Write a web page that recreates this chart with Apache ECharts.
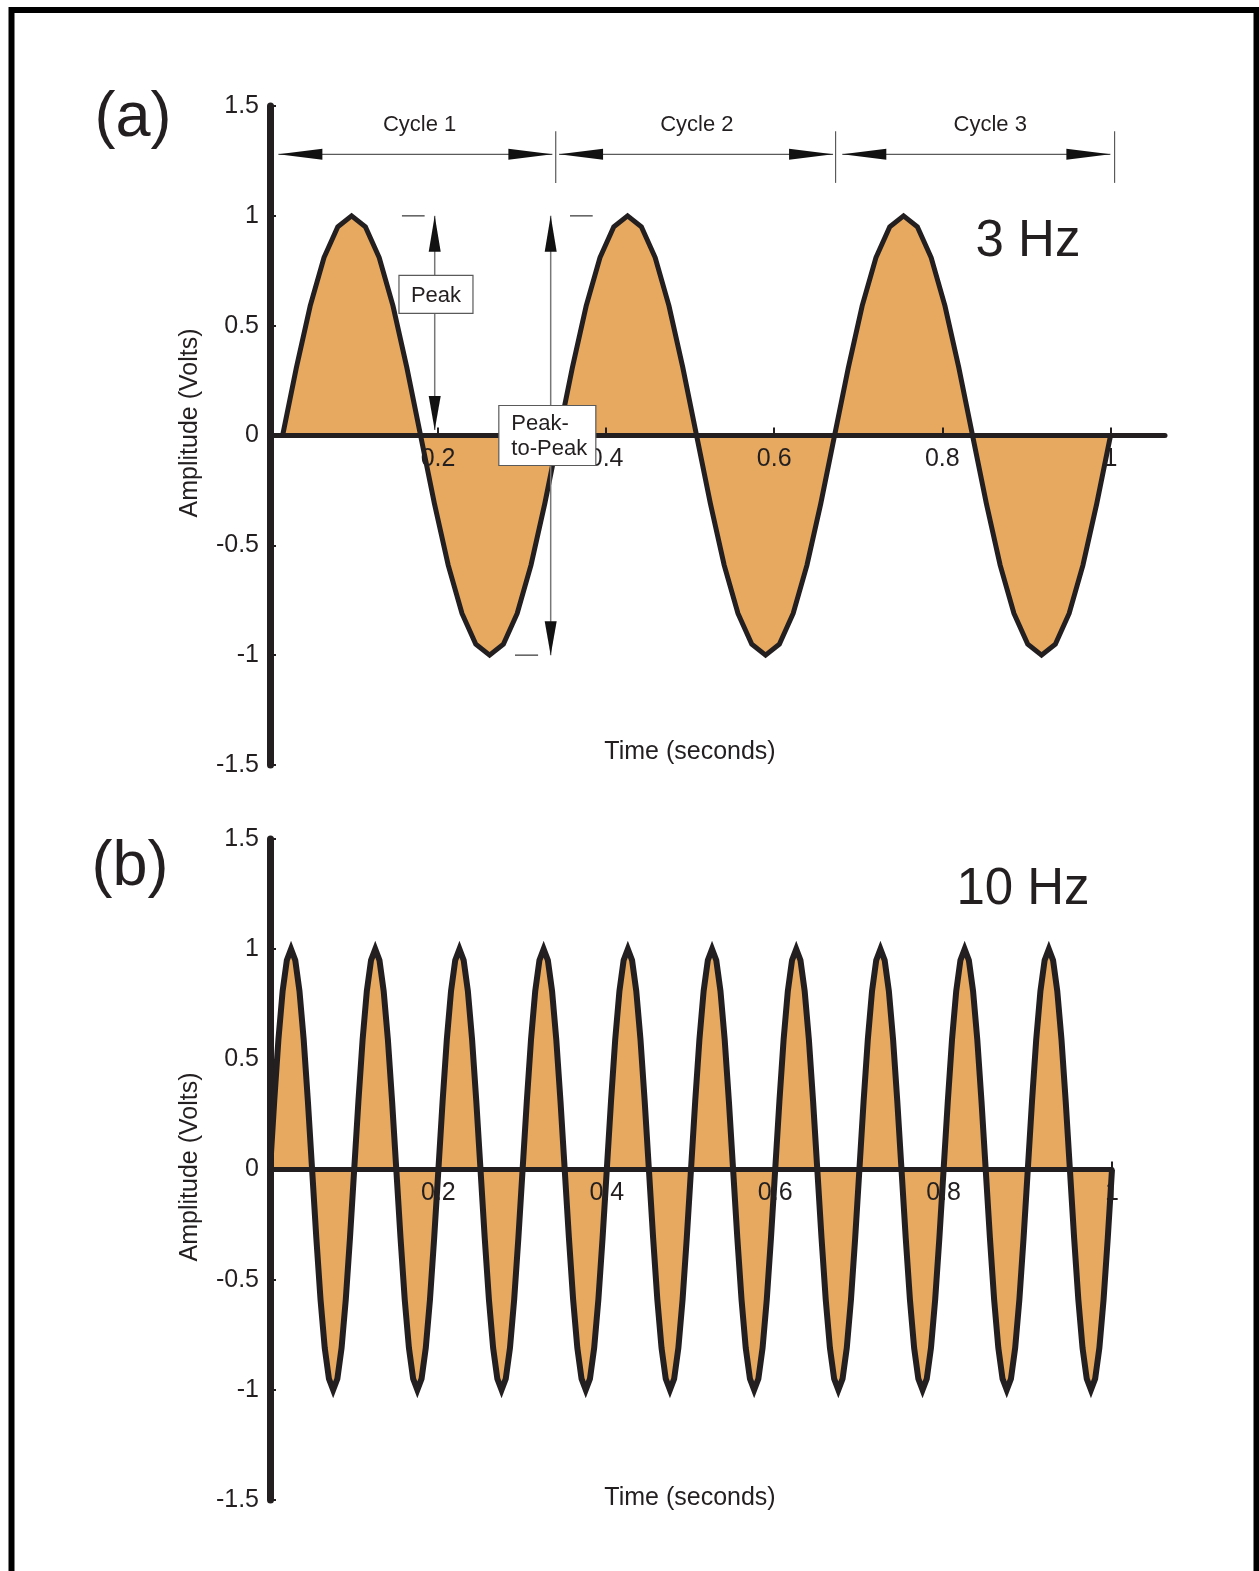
<!DOCTYPE html>
<html>
<head>
<meta charset="utf-8">
<script src="https://cdn.jsdelivr.net/npm/echarts@6/dist/echarts.min.js"></script>
<style>
  html, body { margin: 0; padding: 0; background: #fff; }
  #chart { width: 1259px; height: 1571px; }
</style>
</head>
<body>
<div id="chart"></div>
<script>
const FONT = '"Liberation Sans", Arial, Helvetica, sans-serif'
const INK = '#231f20'
const FILL = '#e6a95f'
const GUIDE = '#5a5a5a'

// panel (a): 3 Hz trace, 20 readings per cycle, first reading at 0.015 s
const startA = 0.015
const stepA = 0.01642
const voltsA = [
  0, 0.31, 0.59, 0.81, 0.95, 1, 0.95, 0.81, 0.59, 0.31, 0, -0.31, -0.59, -0.81, -0.95, -1, -0.95, -0.81, -0.59, -0.31,
  0, 0.31, 0.59, 0.81, 0.95, 1, 0.95, 0.81, 0.59, 0.31, 0, -0.31, -0.59, -0.81, -0.95, -1, -0.95, -0.81, -0.59, -0.31,
  0, 0.31, 0.59, 0.81, 0.95, 1, 0.95, 0.81, 0.59, 0.31, 0, -0.31, -0.59, -0.81, -0.95, -1, -0.95, -0.81, -0.59, -0.31,
  0
]

// panel (b): 10 Hz trace, 20 readings per cycle, starting at 0 s
const startB = 0
const stepB = 0.005
const voltsB = [
  0, 0.31, 0.59, 0.81, 0.95, 1, 0.95, 0.81, 0.59, 0.31, 0, -0.31, -0.59, -0.81, -0.95, -1, -0.95, -0.81, -0.59, -0.31,
  0, 0.31, 0.59, 0.81, 0.95, 1, 0.95, 0.81, 0.59, 0.31, 0, -0.31, -0.59, -0.81, -0.95, -1, -0.95, -0.81, -0.59, -0.31,
  0, 0.31, 0.59, 0.81, 0.95, 1, 0.95, 0.81, 0.59, 0.31, 0, -0.31, -0.59, -0.81, -0.95, -1, -0.95, -0.81, -0.59, -0.31,
  0, 0.31, 0.59, 0.81, 0.95, 1, 0.95, 0.81, 0.59, 0.31, 0, -0.31, -0.59, -0.81, -0.95, -1, -0.95, -0.81, -0.59, -0.31,
  0, 0.31, 0.59, 0.81, 0.95, 1, 0.95, 0.81, 0.59, 0.31, 0, -0.31, -0.59, -0.81, -0.95, -1, -0.95, -0.81, -0.59, -0.31,
  0, 0.31, 0.59, 0.81, 0.95, 1, 0.95, 0.81, 0.59, 0.31, 0, -0.31, -0.59, -0.81, -0.95, -1, -0.95, -0.81, -0.59, -0.31,
  0, 0.31, 0.59, 0.81, 0.95, 1, 0.95, 0.81, 0.59, 0.31, 0, -0.31, -0.59, -0.81, -0.95, -1, -0.95, -0.81, -0.59, -0.31,
  0, 0.31, 0.59, 0.81, 0.95, 1, 0.95, 0.81, 0.59, 0.31, 0, -0.31, -0.59, -0.81, -0.95, -1, -0.95, -0.81, -0.59, -0.31,
  0, 0.31, 0.59, 0.81, 0.95, 1, 0.95, 0.81, 0.59, 0.31, 0, -0.31, -0.59, -0.81, -0.95, -1, -0.95, -0.81, -0.59, -0.31,
  0, 0.31, 0.59, 0.81, 0.95, 1, 0.95, 0.81, 0.59, 0.31, 0, -0.31, -0.59, -0.81, -0.95, -1, -0.95, -0.81, -0.59, -0.31,
  0
]

const xTickValues = [0.2, 0.4, 0.6, 0.8, 1]
const xTickLabels = ['0.2', '0.4', '0.6', '0.8', '1']

// annotations of panel (a), in data units
const cycleNames = ['Cycle 1', 'Cycle 2', 'Cycle 3']
const cycleSpans = [[0.01, 0.336], [0.344, 0.67], [0.681, 1.0]]
const cycleLabelAt = [0.178, 0.508, 0.857]
const cycleMarks = [0.34, 0.673, 1.005]
const cycleArrowLevel = 1.28
const cycleLabelLevel = 1.415
const cycleMarkRange = [1.15, 1.385]

const peakArrow = { t: 0.196, from: 1.0, to: 0.025 }
const p2pArrow = { t: 0.334, from: 1.0, to: -1.0 }
const peakDashes = [
  { t0: 0.157, t1: 0.184, v: 1.0 },
  { t0: 0.357, t1: 0.384, v: 1.0 },
  { t0: 0.2915, t1: 0.319, v: -1.0 }
]

const toPoints = (volts, start, step) => volts.map((v, i) => [start + i * step, v])
const pointsA = toPoints(voltsA, startA, stepA)
const pointsB = toPoints(voltsB, startB, stepB)

const grids = [
  { left: 270, top: 106, width: 895, height: 659 },
  { left: 270, top: 839, width: 842, height: 661 }
]

// the time axis sits on the zero line, halfway up the symmetric volt range
function xAxisFor(gridIndex, max) {
  return {
    type: 'value',
    gridIndex,
    position: 'bottom',
    offset: -grids[gridIndex].height / 2,
    min: 0,
    max,
    interval: 0.2,
    z: 2,
    axisLine: { onZero: false, lineStyle: { color: INK, width: 5 } },
    axisTick: { inside: true, length: 8, customValues: xTickValues, lineStyle: { color: INK, width: 2 } },
    axisLabel: {
      margin: 11,
      color: INK,
      fontSize: 25,
      fontFamily: FONT,
      formatter: (v) => xTickLabels[xTickValues.findIndex((x) => Math.abs(x - v) < 1e-6)] || ''
    },
    splitLine: { show: false }
  }
}

function yAxisFor(gridIndex) {
  return {
    type: 'value',
    gridIndex,
    min: -1.5,
    max: 1.5,
    interval: 0.5,
    z: 2,
    axisLine: { show: true, onZero: false, lineStyle: { color: INK, width: 7 } },
    axisTick: { show: true, inside: true, length: 6, lineStyle: { color: INK, width: 2 } },
    axisLabel: { margin: 11, color: INK, fontSize: 25, fontFamily: FONT },
    splitLine: { show: false }
  }
}

function waveSeries(axisIndex, data, width) {
  return [
    {
      type: 'line',
      xAxisIndex: axisIndex,
      yAxisIndex: axisIndex,
      data,
      symbol: 'none',
      silent: true,
      z: 1,
      lineStyle: { opacity: 0 },
      areaStyle: { color: FILL, opacity: 1, origin: 0 }
    },
    {
      type: 'line',
      xAxisIndex: axisIndex,
      yAxisIndex: axisIndex,
      data,
      symbol: 'none',
      silent: true,
      z: 3,
      lineStyle: { color: INK, width, join: 'miter', miterLimit: 10 }
    }
  ]
}

const chart = echarts.init(document.getElementById('chart'))

chart.setOption({
  backgroundColor: '#fff',
  animation: false,
  grid: grids,
  xAxis: [xAxisFor(0, 1.065), xAxisFor(1, 1)],
  yAxis: [yAxisFor(0), yAxisFor(1)],
  series: [...waveSeries(0, pointsA, 5), ...waveSeries(1, pointsB, 6)]
})

// helpers for the drawn annotations
const px = (t, v) => chart.convertToPixel({ gridIndex: 0 }, [t, v])

function arrowHead(tip, dx, dy, len, half) {
  const bx = tip[0] - dx * len
  const by = tip[1] - dy * len
  return {
    type: 'polygon',
    z: 20,
    silent: true,
    shape: { points: [tip, [bx - dy * half, by + dx * half], [bx + dy * half, by - dx * half]] },
    style: { fill: '#111' }
  }
}

function seg(a, b, color, width) {
  return {
    type: 'line',
    z: 20,
    silent: true,
    shape: { x1: a[0], y1: a[1], x2: b[0], y2: b[1] },
    style: { stroke: color, lineWidth: width }
  }
}

function label(text, x, y, size, extra) {
  return {
    type: 'text',
    z: 20,
    silent: true,
    x,
    y,
    style: Object.assign({ text, font: `${size}px ${FONT}`, fill: INK, align: 'center', verticalAlign: 'middle' }, extra || {})
  }
}

const graphics = []

// outer frame
graphics.push({
  type: 'rect',
  z: 30,
  silent: true,
  shape: { x: 11.5, y: 10, width: 1245, height: 1620 },
  style: { fill: null, stroke: '#000', lineWidth: 6 }
})

// cycle arrows
cycleSpans.forEach((span, i) => {
  const a = px(span[0], cycleArrowLevel)
  const b = px(span[1], cycleArrowLevel)
  graphics.push(seg(a, b, GUIDE, 1.2))
  graphics.push(arrowHead(a, -1, 0, 44, 5.5))
  graphics.push(arrowHead(b, 1, 0, 44, 5.5))
  const c = px(cycleLabelAt[i], cycleLabelLevel)
  graphics.push(label(cycleNames[i], c[0], c[1], 22))
})
cycleMarks.forEach((t) => {
  graphics.push(seg(px(t, cycleMarkRange[0]), px(t, cycleMarkRange[1]), GUIDE, 1.2))
})

// peak and peak-to-peak arrows
;[peakArrow, p2pArrow].forEach((ar) => {
  const top = px(ar.t, ar.from)
  const bot = px(ar.t, ar.to)
  graphics.push(seg(top, bot, '#777', 1.5))
  graphics.push(arrowHead(top, 0, -1, 36, 6))
  graphics.push(arrowHead(bot, 0, 1, 34, 6))
})
peakDashes.forEach((d) => {
  graphics.push(seg(px(d.t0, d.v), px(d.t1, d.v), GUIDE, 1.5))
})

// boxes
const peakBox = px(0.1975, 0.642)
graphics.push({
  type: 'rect', z: 21, silent: true,
  shape: { x: peakBox[0] - 37, y: peakBox[1] - 19, width: 74, height: 38 },
  style: { fill: '#fff', stroke: GUIDE, lineWidth: 1.2 }
})
graphics.push(Object.assign(label('Peak', peakBox[0], peakBox[1] + 1, 22), { z: 22 }))

const p2pBox = px(0.330, 0)
graphics.push({
  type: 'rect', z: 21, silent: true,
  shape: { x: p2pBox[0] - 48.5, y: p2pBox[1] - 30, width: 97, height: 60 },
  style: { fill: '#fff', stroke: GUIDE, lineWidth: 1.2 }
})
graphics.push(Object.assign(label('Peak-\nto-Peak', p2pBox[0] - 36, p2pBox[1] + 1, 22, { align: 'left', lineHeight: 25 }), { z: 22 }))

// panel letters and frequency tags
graphics.push(label('(a)', 133, 119, 63))
graphics.push(label('(b)', 130, 868, 63))
graphics.push(label('3 Hz', 1028, 242, 51))
graphics.push(label('10 Hz', 1023, 890, 51))

// axis names
const yName = (y) => Object.assign(label('Amplitude (Volts)', 190, y, 25), { rotation: Math.PI / 2 })
graphics.push(label('Time (seconds)', 690, 752, 25))
graphics.push(label('Time (seconds)', 690, 1498, 25))
graphics.push(yName(423))
graphics.push(yName(1167))

chart.setOption({ graphic: graphics })
</script>
</body>
</html>
